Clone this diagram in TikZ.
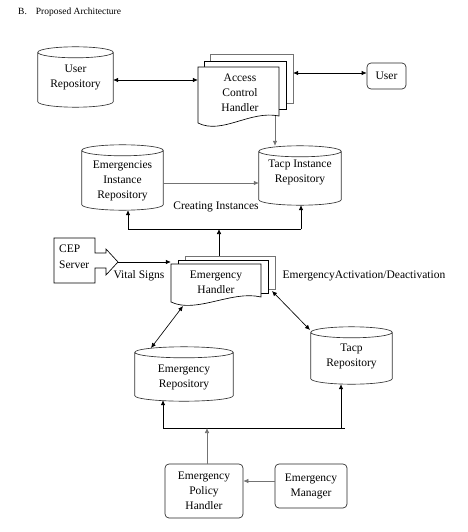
\documentclass[tikz,border=0pt]{standalone}
\usepackage{fontspec}
\setmainfont{Liberation Serif}
\usetikzlibrary{arrows.meta,calc}
\newcommand\cylout[2]{%
  \draw[cyl] let \p1=(#1.north west), \p2=(#1.south east), \n1={(\x2-\x1)/2} in
    (\x1,\y1-#2pt) -- (\x1,\y2+#2pt)
    arc[start angle=180,end angle=360,x radius=\n1,y radius=#2pt]
    -- (\x2,\y1-#2pt)
    arc[start angle=0,end angle=180,x radius=\n1,y radius=#2pt]
    arc[start angle=180,end angle=360,x radius=\n1,y radius=#2pt];}
\begin{document}
\begin{tikzpicture}[x=1pt,y=-1pt,
  font=\fontsize{11.5}{15}\selectfont,
  ln/.style={line width=0.65pt, draw=black},
  gln/.style={line width=0.65pt, draw=black!55},
  tip/.tip={Latex[length=5pt,width=4.5pt]},
  arr/.style={ln,-tip},
  darr/.style={ln,tip-tip},
  garr/.style={gln,-tip},
  cyl/.style={line width=0.65pt, draw=black!80, fill=white},
  doc/.style={line width=0.65pt, draw=black, fill=white},
  gdoc/.style={line width=0.65pt, draw=black!55, fill=white},
  box/.style={draw=none, inner sep=0pt},
  txt/.style={align=center, inner sep=0pt},
  rbox/.style={line width=0.65pt, draw=black!85, rounded corners=4pt, fill=white, inner sep=0pt, align=center},
]
\useasboundingbox (0,0) rectangle (467,532);

% title
\node[anchor=west, inner sep=0pt, font=\fontsize{9.5}{11}\selectfont] (title) at (18,12) {B.\hspace{9pt}Proposed Architecture};

% ---------- cylinders ----------
\node[box, minimum width=75pt, minimum height=60pt] (urepo) at (75.5,77) {};
\cylout{urepo}{5.5}
\node[txt] (urepot) at (75.5,77.5) {User\\Repository};

\node[box, minimum width=81pt, minimum height=65pt] (eirepo) at (122.5,177.5) {};
\cylout{eirepo}{5.5}
\node[txt] (eirepot) at (122.5,181) {Emergencies\\Instance\\Repository};

\node[box, minimum width=82pt, minimum height=59pt] (tirepo) at (300,175.5) {};
\cylout{tirepo}{5.5}
\node[txt] (tirepot) at (300,172.5) {Tacp Instance\\Repository};

\node[box, minimum width=98pt, minimum height=54pt] (erepo) at (184,374) {};
\cylout{erepo}{5.5}
\node[txt] (erepot) at (184,377.5) {Emergency\\Repository};

\node[box, minimum width=81pt, minimum height=57pt] (trepo) at (351.5,355.5) {};
\cylout{trepo}{5.5}
\node[txt] (trepot) at (351.5,356.5) {Tacp\\Repository};

% ---------- Access Control Handler (multi document) ----------
\node[box, minimum width=83pt, minimum height=49pt] (accb) at (251.5,78.5) {};
\node[box, minimum width=81pt, minimum height=56pt] (acc) at (238.5,95) {};
\draw[gdoc] (210,54) rectangle (293,103);
\draw[doc] (204,61) rectangle (286,109);
\draw[doc] (198,67) -- (279,67) -- (279,116)
  .. controls (250,110) and (222,135) .. (198,123) -- cycle;
\node[txt] (acct) at (240,92.5) {Access\\Control\\Handler};

% ---------- Emergency Handler (multi document) ----------
\node[box, minimum width=90pt, minimum height=33pt] (ehb) at (230,272.5) {};
\node[box, minimum width=90pt, minimum height=41pt] (ehf) at (216,284.5) {};
\draw[gdoc] (185,256) rectangle (275,289);
\draw[doc] (178,260) rectangle (268,293);
\draw[doc] (171,264) -- (261,264) -- (261,297)
  .. controls (232,290) and (196,314) .. (171,302) -- cycle;
\node[txt] (eht) at (216,282) {Emergency\\Handler};

% ---------- CEP Server ----------
\draw[doc] (54,238) -- (95,238) -- (95,253) -- (106,253) -- (106,249) -- (118,262)
  -- (106,275) -- (106,268) -- (95,268) -- (95,283) -- (54,283) -- cycle;
\node[anchor=west, align=left, inner sep=0pt, font=\fontsize{11.5}{16}\selectfont] (cep) at (59,257) {CEP\\Server};
\coordinate (ceptip) at (118,262);

% ---------- rounded boxes ----------
\node[rbox, minimum width=39pt, minimum height=26pt] (user) at (386.5,76) {User};
\node[rbox, minimum width=78pt, minimum height=54pt] (policy) at (204,491) {Emergency\\Policy\\Handler};
\node[rbox, minimum width=72pt, minimum height=44pt] (manager) at (311,486) {Emergency\\Manager};

% ---------- labels ----------
\node[txt] (lcreate) at (216,207) {Creating Instances};
\node[txt] (lvital) at (139,276) {Vital Signs};
\node[txt] (lact) at (364,276) {EmergencyActivation/Deactivation};

% ---------- connectors ----------
\draw[darr] ([yshift=-3pt]urepo.east) -- ([yshift=-3pt]urepo.east -| acc.west);
\draw[darr] ([yshift=3pt]user.west) -- ([yshift=3pt]user.west -| accb.east);
\coordinate (accout) at (275,116);
\draw[garr] (accout) -- (accout |- tirepo.north);
\draw[garr] ([yshift=-5.5pt]eirepo.east) -- ([yshift=-5.5pt]eirepo.east -| tirepo.west);

\coordinate (bl) at (128,229);
\coordinate (br) at (301,229);
\coordinate (bm) at (219,229);
\draw[ln] (bl) -- (br);
\draw[arr] (bl) -- (bl |- eirepo.south);
\draw[arr] (br) -- (br |- tirepo.south);
\draw[arr] (bm |- ehb.north) -- (bm);

\draw[arr] (ceptip) -- (ceptip -| ehf.west);

\coordinate (eh1) at (183,306);
\coordinate (er1) at (151,348);
\draw[darr] (eh1) -- (er1);
\coordinate (eh2) at (272,291);
\coordinate (tr1) at (310,330);
\draw[darr] (eh2) -- (tr1);

\coordinate (cl) at (163,428);
\coordinate (cr) at (341,428);
\coordinate (cm) at (207,428);
\draw[ln] (cl) -- (345,428);
\draw[arr] (cl) -- ([yshift=1pt]cl |- erepo.south);
\draw[arr] (cr) -- (cr |- trepo.south);
\draw[garr] (cm |- policy.north) -- (cm);
\draw[garr] ([yshift=5pt]manager.west) -- ([yshift=5pt]manager.west -| policy.east);
\end{tikzpicture}
\end{document}
